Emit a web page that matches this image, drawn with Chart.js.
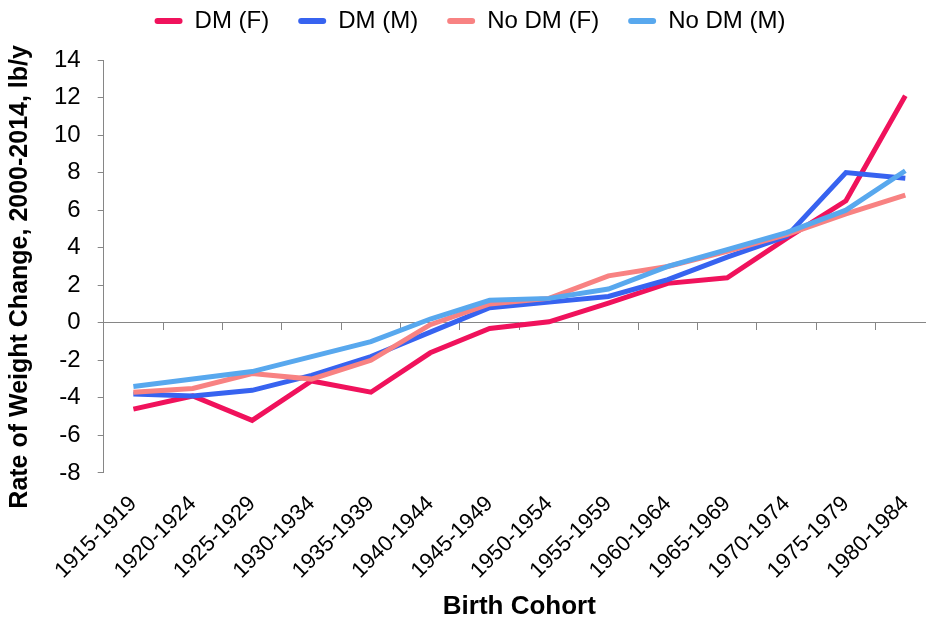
<!DOCTYPE html>
<html>
<head>
<meta charset="utf-8">
<script src="https://cdn.jsdelivr.net/npm/chart.js@4"></script>
<style>
    html, body { margin: 0; padding: 0; background: #fff; overflow: hidden; }
    #wrap { width: 940px; height: 620px; }
</style>
</head>
<body>
<div id="wrap"><canvas id="weightChart"></canvas></div>
<script>
const cohorts = ['1915-1919', '1920-1924', '1925-1929', '1930-1934', '1935-1939', '1940-1944', '1945-1949',
    '1950-1954', '1955-1959', '1960-1964', '1965-1969', '1970-1974', '1975-1979', '1980-1984'];

const dmFemale = [-4.6, -3.9, -5.2, -3.1, -3.7, -1.6, -0.3, 0.05, 1.05, 2.1, 2.4, 4.5, 6.5, 12.1];
const dmMale = [-3.8, -3.9, -3.6, -2.8, -1.8, -0.5, 0.8, 1.1, 1.4, 2.3, 3.5, 4.6, 8.0, 7.7];
const noDmFemale = [-3.7, -3.5, -2.7, -3.0, -2.0, -0.1, 1.0, 1.3, 2.5, 3.0, 3.8, 4.7, 5.8, 6.8];
const noDmMale = [-3.4, -3.0, -2.6, -1.8, -1.0, 0.2, 1.2, 1.3, 1.8, 3.0, 3.9, 4.8, 6.0, 8.1];

const yTicks = [-8, -6, -4, -2, 0, 2, 4, 6, 8, 10, 12, 14];

const axisGray = '#868686';
const font = 'Liberation Sans, Arial, sans-serif';

function series(label, data, color, order) {
    return {
        label: label,
        data: data,
        borderColor: color,
        backgroundColor: color,
        borderWidth: 5,
        pointRadius: 0,
        tension: 0,
        order: order,
        xAxisID: 'x'
    };
}

// extra room under the legend
const legendGap = {
    id: 'legendGap',
    beforeInit(chart) {
        const fit = chart.legend.fit;
        chart.legend.fit = function () {
            fit.call(this);
            this.height += 17;
        };
    }
};

const ctx = document.getElementById('weightChart').getContext('2d');
new Chart(ctx, {
    type: 'line',
    data: {
        labels: cohorts,
        datasets: [
            series('DM (F)', dmFemale, '#F0125C', 4),
            series('DM (M)', dmMale, '#3763F0', 3),
            series('No DM (F)', noDmFemale, '#F88282', 2),
            series('No DM (M)', noDmMale, '#58A8EE', 1)
        ]
    },
    plugins: [legendGap],
    options: {
        responsive: true,
        maintainAspectRatio: false,
        animation: false,
        layout: {
            padding: { left: 5, right: 5, top: -20, bottom: 0 }
        },
        plugins: {
            tooltip: { enabled: false },
            legend: {
                position: 'top',
                labels: {
                    font: { family: font, size: 24 },
                    color: '#000',
                    boxWidth: 28,
                    boxHeight: 6,
                    padding: 29,
                    useBorderRadius: true,
                    borderRadius: 3,
                    sort: (a, b) => a.datasetIndex - b.datasetIndex,
                    generateLabels: (chart) => Chart.defaults.plugins.legend.labels.generateLabels(chart)
                        .map(item => ({ ...item, lineWidth: 0 }))
                }
            }
        },
        scales: {
            x: {
                type: 'category',
                position: 'bottom',
                offset: true,
                grid: { display: false },
                border: { display: false },
                ticks: {
                    font: { family: font, size: 22 },
                    color: '#000',
                    minRotation: 45,
                    maxRotation: 45,
                    autoSkip: false,
                    padding: 10
                },
                title: {
                    display: true,
                    text: 'Birth Cohort',
                    font: { family: font, size: 26, weight: 'bold', lineHeight: 1 },
                    color: '#000',
                    padding: { top: 0, bottom: 0 }
                }
            },
            x2: {
                type: 'category',
                axis: 'x',
                position: { y: 0 },
                offset: true,
                ticks: { display: false },
                grid: {
                    display: true,
                    offset: true,
                    drawOnChartArea: false,
                    drawTicks: true,
                    tickLength: 7,
                    color: axisGray
                },
                border: { display: true, color: axisGray, width: 1 }
            },
            y: {
                min: -8,
                max: 14,
                afterBuildTicks: (scale) => {
                    scale.ticks = yTicks.map(v => ({ value: v }));
                },
                grid: {
                    display: true,
                    drawOnChartArea: false,
                    drawTicks: true,
                    tickLength: 6,
                    color: axisGray
                },
                border: { display: true, color: axisGray, width: 1 },
                ticks: {
                    font: { family: font, size: 24 },
                    color: '#000',
                    padding: 17
                },
                title: {
                    display: true,
                    text: 'Rate of Weight Change, 2000-2014, lb/y\u00a0\u00a0\u00a0',
                    font: { family: font, size: 25, weight: 'bold' },
                    color: '#000',
                    padding: { top: 0, bottom: 2 }
                }
            }
        }
    }
});
</script>
</body>
</html>
